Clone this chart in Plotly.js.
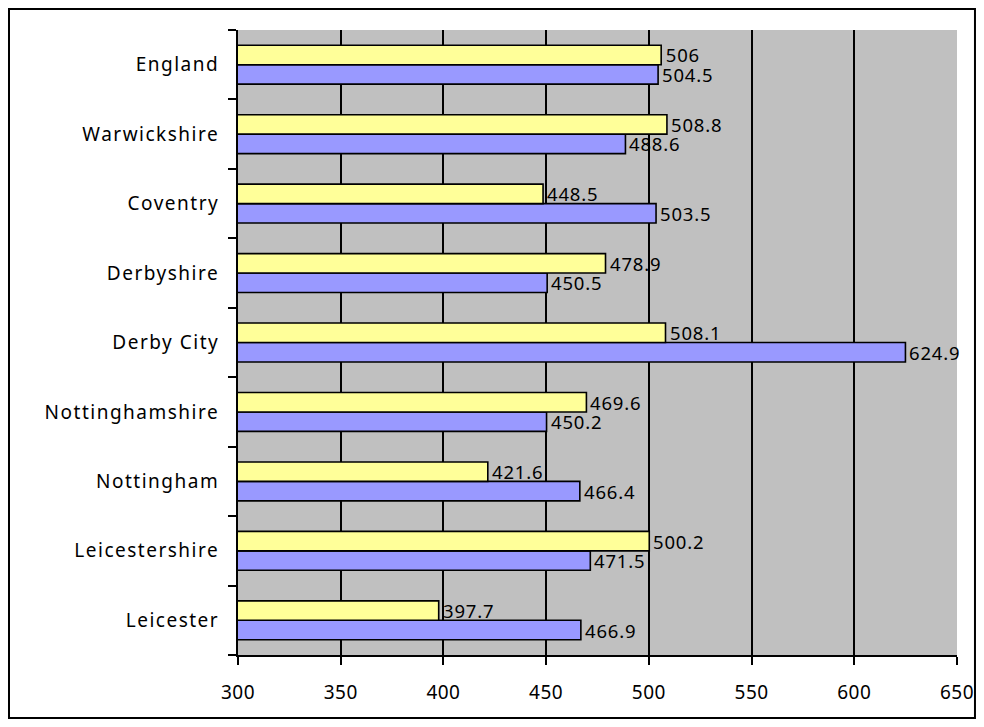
<!DOCTYPE html>
<html>
<head>
<meta charset="utf-8">
<script src="https://cdn.plot.ly/plotly-3.0.1.min.js"></script>
<style>
html,body{margin:0;padding:0;background:#fff;}
#chart{width:984px;height:727px;}
#chart .ytick text{letter-spacing:1.5px;}
#chart .xtick text{letter-spacing:0.5px;}
#chart .annotation-text{letter-spacing:0.8px;}
</style>
</head>
<body>
<div id="chart"></div>
<script>
const categories = ['Leicester','Leicestershire','Nottingham','Nottinghamshire','Derby City','Derbyshire','Coventry','Warwickshire','England'];
const yellowValues = [397.7, 500.2, 421.6, 469.6, 508.1, 478.9, 448.5, 508.8, 506];
const blueValues = [466.9, 471.5, 466.4, 450.2, 624.9, 450.5, 503.5, 488.6, 504.5];
const xTicks = [300, 350, 400, 450, 500, 550, 600, 650];

const FONT = 'Noto Sans, Open Sans, sans-serif';
const BARGAP = 0.44;
const PLOT_H = 625;
const half = (PLOT_H / categories.length) * (1 - BARGAP) / 4;

const blue = {
  type: 'bar', orientation: 'h', y: categories, x: blueValues,
  marker: {color: '#9999FF', line: {color: '#000', width: 1.6}},
  hoverinfo: 'x+y', showlegend: false
};
const yellow = {
  type: 'bar', orientation: 'h', y: categories, x: yellowValues,
  marker: {color: '#FFFF99', line: {color: '#000', width: 1.6}},
  hoverinfo: 'x+y', showlegend: false
};

function labels(values, shift) {
  return values.map((v, i) => ({
    x: v, y: categories[i], xref: 'x', yref: 'y',
    text: String(v), showarrow: false, xanchor: 'left', yanchor: 'middle',
    xshift: 5, yshift: shift, borderpad: 0,
    font: {family: FONT, size: 18.5, color: '#000'}
  }));
}

const layout = {
  width: 984, height: 727,
  margin: {l: 238, r: 27, t: 30, b: 72},
  paper_bgcolor: '#fff', plot_bgcolor: '#C0C0C0',
  barmode: 'group', bargap: BARGAP, bargroupgap: 0,
  font: {family: FONT, size: 18, color: '#000'},
  xaxis: {
    range: [300, 650], tickvals: xTicks, ticktext: xTicks.map(String),
    showgrid: true, gridcolor: '#000', gridwidth: 2,
    showline: true, linecolor: '#000', linewidth: 2,
    ticks: 'outside', ticklen: 8, tickcolor: '#000', tickwidth: 2,
    ticklabelstandoff: 11, tickfont: {family: FONT, size: 19, color: '#000'},
    zeroline: false, fixedrange: true
  },
  yaxis: {
    type: 'category', categoryorder: 'array', categoryarray: categories,
    tickson: 'boundaries', showgrid: false,
    showline: true, linecolor: '#000', linewidth: 2,
    ticks: 'outside', ticklen: 8, tickcolor: '#000', tickwidth: 2,
    ticklabelstandoff: 13, tickfont: {family: FONT, size: 19, color: '#000'},
    fixedrange: true
  },
  annotations: labels(yellowValues, half).concat(labels(blueValues, -half)),
  shapes: [
    {type: 'rect', xref: 'paper', yref: 'paper', x0: -0.3185, x1: 1.025, y0: -0.1008, y1: 1.0336,
     line: {color: '#000', width: 2}, fillcolor: 'rgba(0,0,0,0)', layer: 'above'}
  ]
};

Plotly.newPlot('chart', [blue, yellow], layout, {displayModeBar: false, staticPlot: true});
</script>
</body>
</html>
